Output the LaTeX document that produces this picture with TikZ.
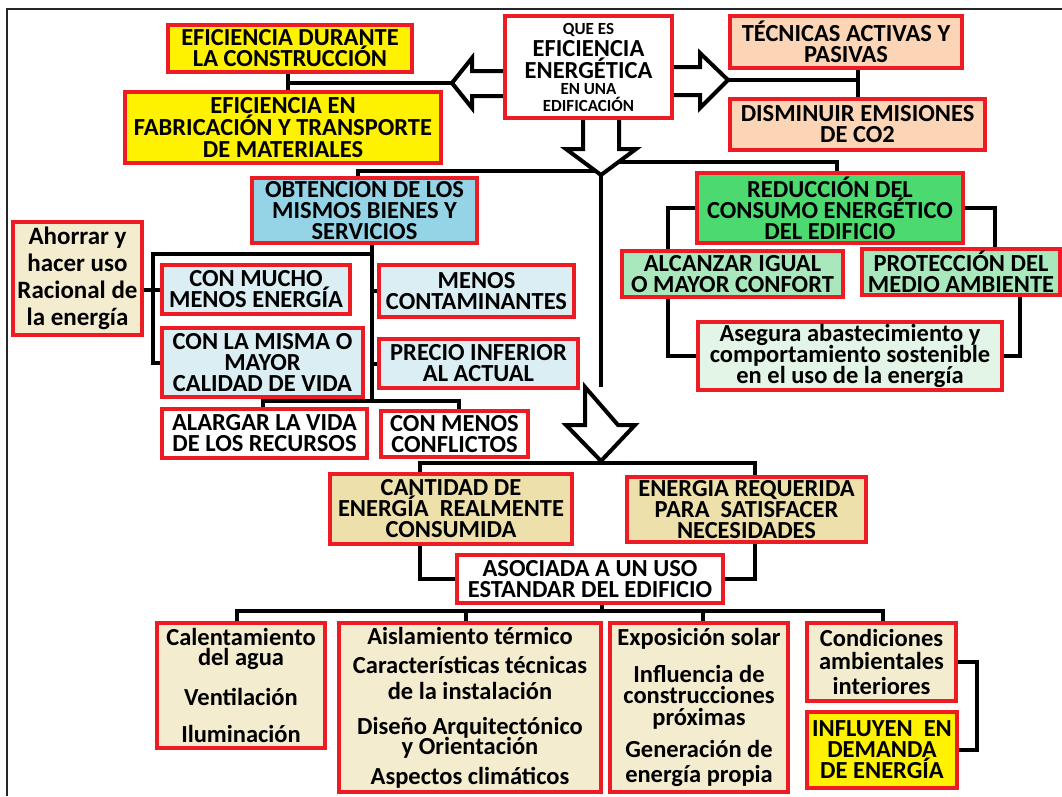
\documentclass[tikz,border=0pt]{standalone}
\usepackage{fontspec}
\setmainfont{Carlito}
\usetikzlibrary{backgrounds}
\definecolor{bred}{HTML}{ED1C24}
\definecolor{yel}{HTML}{FFF200}
\definecolor{peach}{HTML}{FBD5B5}
\definecolor{obtblue}{HTML}{95D3E6}
\definecolor{lblue}{HTML}{DAEEF3}
\definecolor{grn}{HTML}{4CDA70}
\definecolor{lgrn}{HTML}{A9E8BC}
\definecolor{pgrn}{HTML}{E3F5E6}
\definecolor{tanbox}{HTML}{EDE0AA}
\definecolor{cream}{HTML}{F4ECCF}
\begin{document}
\lineskiplimit=-60pt
\begin{tikzpicture}[x=1pt,y=-1pt,
  box/.style={draw=bred, line width=3.5pt, align=center, inner sep=0pt, fill=white,
    font=\bfseries\fontsize{24.5}{21}\selectfont},
  conn/.style={line width=4pt, draw=black},
  bigarrow/.style={draw=black, line width=4pt, fill=white, line join=miter},
  frameline/.style={line width=2.5pt, draw=black!85}]
\useasboundingbox (0,0) rectangle (1062,796);

% ---------- boxes ----------
\node[box, fill=yel, minimum width=244pt, minimum height=47pt] (b1) at (290,48.5) {EFICIENCIA DURANTE\\LA CONSTRUCCIÓN};
\node[box, fill=yel, minimum width=316pt, minimum height=71pt] (b2) at (283,127.5) {EFICIENCIA EN\\[1pt]FABRICACIÓN Y TRANSPORTE\\[1pt]DE MATERIALES};
\node[box, minimum width=167pt, minimum height=102pt] (q) at (588.5,67)
  {{\fontsize{17}{20}\selectfont QUE ES}\\[1pt]EFICIENCIA\\[1pt]ENERGÉTICA\\[-5pt]{\fontsize{17}{20}\selectfont EN UNA}\\[-4pt]{\fontsize{17}{20}\selectfont EDIFICACIÓN}};
\node[box, fill=peach, minimum width=232pt, minimum height=52pt] (tec) at (846,42) {TÉCNICAS ACTIVAS Y\\PASIVAS};
\node[box, fill=peach, minimum width=255pt, minimum height=51pt] (dis) at (857.5,124.5) {DISMINUIR EMISIONES\\DE CO2};

\node[box, fill=obtblue, minimum width=225pt, minimum height=65pt] (obt) at (364.5,210.5) {OBTENCION DE LOS\\MISMOS BIENES Y\\SERVICIOS};
\node[box, fill=cream, minimum width=129pt, minimum height=113pt, font=\bfseries\fontsize{25}{27}\selectfont] (aho) at (77.5,278.5) {Ahorrar y\\hacer uso\\Racional de\\la energía};
\node[box, fill=lblue, minimum width=188pt, minimum height=49pt] (mucho) at (256,289.5) {CON MUCHO\\MENOS ENERGÍA};
\node[box, fill=lblue, minimum width=201pt, minimum height=69pt] (misma) at (262.5,362.5) {CON LA MISMA O\\MAYOR\\CALIDAD DE VIDA};
\node[box, fill=lblue, minimum width=195pt, minimum height=52pt] (contam) at (476.5,291) {MENOS\\CONTAMINANTES};
\node[box, fill=lblue, minimum width=199pt, minimum height=49pt] (precio) at (478.5,363.5) {PRECIO INFERIOR\\AL ACTUAL};
\node[box, minimum width=205pt, minimum height=49pt] (alargar) at (264.5,433.5) {ALARGAR LA VIDA\\DE LOS RECURSOS};
\node[box, minimum width=147pt, minimum height=46pt] (conf) at (454.5,434) {CON MENOS\\CONFLICTOS};

\node[box, fill=grn, minimum width=266pt, minimum height=70pt] (red) at (830,208) {REDUCCIÓN DEL\\CONSUMO ENERGÉTICO\\DEL EDIFICIO};
\node[box, fill=lgrn, minimum width=221pt, minimum height=46pt] (alc) at (732.5,274) {ALCANZAR IGUAL\\O MAYOR CONFORT};
\node[box, fill=lgrn, minimum width=198pt, minimum height=46pt] (prot) at (961,272) {PROTECCIÓN DEL\\MEDIO AMBIENTE};
\node[box, fill=pgrn, minimum width=304pt, minimum height=68pt] (ase) at (850,356) {Asegura abastecimiento y\\comportamiento sostenible\\en el uso de la energía};

\node[box, fill=tanbox, minimum width=242pt, minimum height=70pt] (cant) at (451,509) {CANTIDAD DE\\ENERGÍA\ \ REALMENTE\\CONSUMIDA};
\node[box, fill=tanbox, minimum width=239pt, minimum height=65pt] (ener) at (746.5,509.5) {ENERGIA REQUERIDA\\PARA\ \ SATISFACER\\NECESIDADES};
\node[box, minimum width=266pt, minimum height=48pt] (aso) at (590,579) {ASOCIADA A UN USO\\ESTANDAR DEL EDIFICIO};

\node[box, fill=cream, minimum width=168pt, minimum height=125pt] (cal) at (241,685.5) {Calentamiento\\[-1pt]del agua\\[19pt]Ventilación\\[16pt]Iluminación};
\node[box, fill=cream, minimum width=262pt, minimum height=169pt] (ais) at (470,707.5) {Aislamiento térmico\\[8pt]Características técnicas\\[5pt]de la instalación\\[14pt]Diseño Arquitectónico\\[-1pt]y Orientación\\[9pt]Aspectos climáticos};
\node[box, fill=cream, minimum width=178pt, minimum height=169pt] (exp) at (699,707.5) {Exposición solar\\[16pt]Influencia de\\[0pt]construcciones\\[1pt]próximas\\[11pt]Generación de\\[4pt]energía\ propia};
\node[box, fill=cream, minimum width=149pt, minimum height=78pt] (cond) at (881.5,662) {Condiciones\\[2pt]ambientales\\[4pt]interiores};
\node[box, fill=yel, minimum width=150pt, minimum height=76pt] (inf) at (882,750) {INFLUYEN\ \ EN\\[0pt]DEMANDA\\[0pt]DE ENERGÍA};

% ---------- connectors and arrows ----------
\begin{scope}[on background layer]
\draw[frameline] (7,796) -- (7,9) -- (1062,9);
\coordinate (lt) at (452,83);
\coordinate (rt) at (728,80);
\coordinate (dt) at (601,175);
\coordinate (dt2) at (601,387);
\coordinate (dt2tip) at (601,461);
\coordinate (jl) at (601,171);
\coordinate (jr) at (601,162);

\draw[conn] (b1.south -| 288,0) -- (b2.north -| 288,0);
\draw[conn] (lt) -- (lt -| 288,0);
\draw[conn] (rt) -- (rt -| 858,0);
\draw[conn] (tec.south -| 858,0) -- (dis.north -| 858,0);
\draw[conn] (dt) -- (dt2);
\draw[conn] (jl) -| (obt.north -| 358,0);
\draw[conn] (jr) -| (red.north -| 837,0);

\draw[conn] (obt.south -| 372,0) -- (372,401);
\draw[conn] (372,254) -- (153,254) |- (misma.west);
\draw[conn] (aho.east |- mucho.west) -- (mucho.west);
\draw[conn] (contam.west -| 372,0) -- (contam.west);
\draw[conn] (precio.west -| 372,0) -- (precio.west);
\draw[conn] (alargar.north -| 263,0) |- (459,401) -- (conf.north -| 459,0);

\draw[conn] (red.west) -| (ase.west -| 668,0) -- (ase.west);
\draw[conn] (red.east) -| (prot.north -| 995,0);
\draw[conn] (prot.south -| 1020,0) |- (ase.east);

\draw[conn] (cant.north -| 420,0) -- (420,463) -- (755,463) -- (ener.north -| 755,0);
\draw[conn] (cant.south -| 420,0) |- (aso.west);
\draw[conn] (ener.south -| 755,0) |- (aso.east);
\draw[conn] (aso.south -| 602,0) -- (602,611);
\draw[conn] (cal.north -| 237,0) -- (237,611) -- (883,611) -- (cond.north -| 883,0);
\draw[conn] (ais.north -| 466,0) -- (466,611);
\draw[conn] (exp.north -| 703,0) -- (703,611);
\draw[conn] (cond.east) -| (inf.east -| 977,0) -- (inf.east);

\draw[bigarrow] (505,71) -- (472,71) -- (472,58) -- (lt) -- (472,108) -- (472,96) -- (505,96);
\draw[bigarrow] (672,67) -- (700,67) -- (700,53) -- (rt) -- (700,108) -- (700,95) -- (672,95);
\draw[bigarrow] (583,118) -- (583,149) -- (566,149) -- (dt) -- (636,149) -- (619,149) -- (619,118);
\draw[bigarrow] (585,387) -- (585,425) -- (566,425) -- (dt2tip) -- (635,425) -- (618,425) -- cycle;
\end{scope}
\end{tikzpicture}
\end{document}
